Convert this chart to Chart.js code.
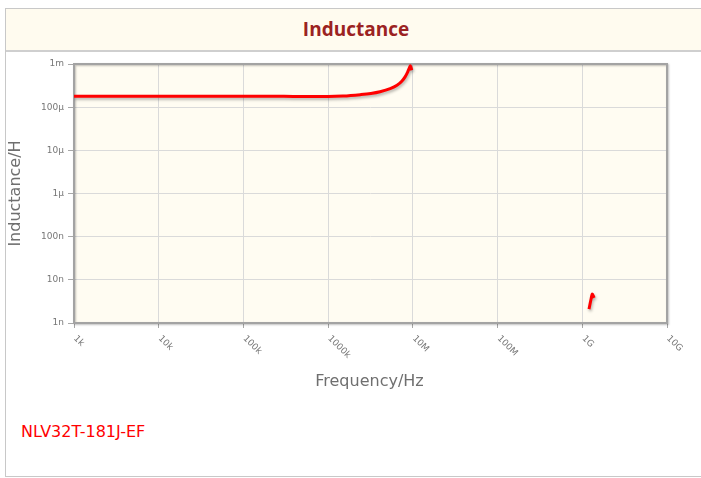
<!DOCTYPE html>
<html>
<head>
<meta charset="utf-8">
<script src="https://cdn.jsdelivr.net/npm/chart.js@4.4.1/dist/chart.umd.min.js"></script>
<style>
  html, body { margin: 0; padding: 0; background: #fff; }
  body { width: 701px; height: 478px; position: relative; overflow: hidden; font-family: "DejaVu Sans", sans-serif; }
  #box { position: absolute; left: 5px; top: 8px; width: 700px; height: 467px; border: 1px solid #c8c8c8; }
  #head { height: 41px; background: #fffbef; border-bottom: 2px solid #cfcfcf; text-align: center;
          font: bold 19px "Open Sans", sans-serif; color: #9b2222; line-height: 41px; }
  #part { position: absolute; left: 21px; top: 422px; font-size: 16px; color: #ff0000; line-height: 20px; }
  #c { position: absolute; left: 0; top: 0; }
</style>
</head>
<body>
<div id="box"><div id="head">Inductance</div></div>
<div id="part">NLV32T-181J-EF</div>
<canvas id="c" width="701" height="478"></canvas>
<script>
// frequency (Hz) and inductance (H), null = gap
const freq = [1e3, 3e3, 1e4, 3e4, 1e5, 3e5, 6e5, 1e6, 1.5e6, 2.4e6, 3.2e6, 4.1e6, 5.4e6, 6.5e6, 7.4e6, 8.1e6,
              8.7e6, 9.1e6, 9.34e6, 9.7e6,
              5e8, 1.2e9, 1.27e9, 1.31e9, 1.38e9];
const inductance = [180e-6, 180e-6, 180e-6, 179e-6, 179e-6, 178e-6, 177e-6, 177e-6, 181e-6, 195e-6, 208e-6, 228e-6,
                    269e-6, 321e-6, 398e-6, 504e-6, 659e-6, 815e-6, 908e-6, 717e-6,
                    null, 2.1e-9, 3.6e-9, 4.7e-9, 3.8e-9];

const xTicks = [1e3, 1e4, 1e5, 1e6, 1e7, 1e8, 1e9, 1e10];
const xLabels = ["1k", "10k", "100k", "1000k", "10M", "100M", "1G", "10G"];
const yTicks = [1e-9, 1e-8, 1e-7, 1e-6, 1e-5, 1e-4, 1e-3];
const yLabels = ["1n", "10n", "100n", "1µ", "10µ", "100µ", "1m"];

const plotDecor = {
  id: "plotDecor",
  beforeDraw(chart) {
    const {ctx, chartArea: a} = chart;
    ctx.save();
    ctx.fillStyle = "#fffcf2";
    ctx.fillRect(a.left, a.top, a.right - a.left, a.bottom - a.top);
    ctx.restore();
  },
  beforeDatasetsDraw(chart) {
    const {ctx, chartArea: a} = chart;
    ctx.save();
    ctx.shadowColor = "rgba(0,0,0,0.25)";
    ctx.shadowOffsetX = 1; ctx.shadowOffsetY = 1; ctx.shadowBlur = 2;
    ctx.strokeStyle = "#a3a3a3";
    ctx.lineWidth = 2;
    ctx.strokeRect(a.left, a.top, a.right - a.left, a.bottom - a.top);
    ctx.restore();
    // line shadow
    ctx.save();
    ctx.shadowColor = "rgba(0,0,0,0.3)";
    ctx.shadowOffsetX = 1; ctx.shadowOffsetY = 2; ctx.shadowBlur = 3;
  },
  afterDatasetsDraw(chart) {
    chart.ctx.restore();
  },
  afterDraw(chart) {
    const {ctx, chartArea: a} = chart;
    const sx = chart.scales.x;
    ctx.save();
    ctx.fillStyle = "#777";
    ctx.font = "9px 'DejaVu Sans'";
    ctx.textAlign = "left";
    ctx.textBaseline = "middle";
    sx.ticks.forEach((t, i) => {
      const px = sx.getPixelForValue(t.value);
      ctx.save();
      ctx.translate(px + 1, a.bottom + 14);
      ctx.rotate(Math.PI / 4);
      ctx.fillText(xLabels[i], 0, 0);
      ctx.restore();
    });
    ctx.fillStyle = "#6f6f6f";
    ctx.font = "16px 'DejaVu Sans'";
    ctx.textAlign = "center";
    ctx.fillText("Frequency/Hz", (a.left + a.right) / 2 - 1, 382);
    ctx.translate(16, (a.top + a.bottom) / 2);
    ctx.rotate(-Math.PI / 2);
    ctx.fillText("Inductance/H", 0, 0);
    ctx.restore();
  }
};

new Chart(document.getElementById("c"), {
  type: "line",
  data: {
    datasets: [{
      data: freq.map((f, i) => ({x: f, y: inductance[i]})),
      borderColor: "#ff0000",
      borderWidth: 3,
      pointRadius: 0,
      cubicInterpolationMode: "monotone",
      spanGaps: false
    }]
  },
  options: {
    responsive: false,
    animation: false,
    devicePixelRatio: 1,
    layout: {padding: {left: 0, top: 64, right: 34, bottom: 0}},
    plugins: {legend: {display: false}, tooltip: {enabled: false}},
    scales: {
      x: {
        type: "logarithmic", min: 1e3, max: 1e10,
        afterBuildTicks: s => { s.ticks = xTicks.map(v => ({value: v})); },
        afterFit: s => { s.height = 478 - 323; },
        grid: {color: "#dadada", tickColor: "#a8a8a8", tickLength: 5},
        border: {display: false},
        ticks: {display: false, autoSkip: false}
      },
      y: {
        type: "logarithmic", min: 1e-9, max: 1e-3,
        afterBuildTicks: s => { s.ticks = yTicks.map(v => ({value: v})); },
        afterFit: s => { s.width = 74; },
        grid: {color: "#dadada", tickColor: "#a8a8a8", tickLength: 6},
        border: {display: false},
        ticks: {
          autoSkip: false, padding: 4, color: "#777",
          font: {family: "DejaVu Sans", size: 9},
          callback: (v, i) => yLabels[i]
        }
      }
    }
  },
  plugins: [plotDecor]
});
</script>
</body>
</html>
